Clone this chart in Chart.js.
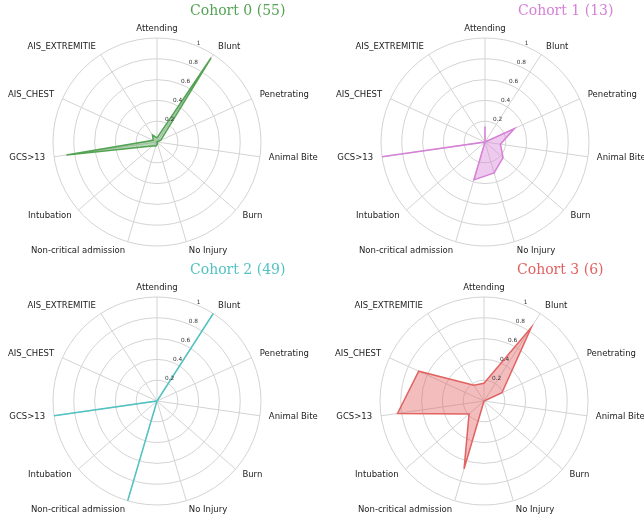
<!DOCTYPE html>
<html>
<head>
<meta charset="utf-8">
<script src="https://cdn.jsdelivr.net/npm/chart.js@4.4.1/dist/chart.umd.min.js"></script>
<style>
  html, body { margin: 0; padding: 0; background: #ffffff; overflow: hidden; }
  #wrap { position: relative; width: 644px; height: 521px; }
  #wrap canvas { position: absolute; }
</style>
</head>
<body>
<div id="wrap"></div>
<script>
// Radar axes, clockwise from the top
const categories = ['Attending', 'Blunt', 'Penetrating', 'Animal Bite', 'Burn', 'No Injury',
  'Non-critical admission', 'Intubation', 'GCS>13', 'AIS_CHEST', 'AIS_EXTREMITIE'];

// Share of patients in each cohort per feature
const cohort0 = [0.04, 0.96, 0.04, 0, 0, 0.02, 0.04, 0.06, 0.88, 0.04, 0.08];
const cohort1 = [0.15, 0, 0.31, 0.15, 0.23, 0.31, 0.38, 0, 1, 0, 0];
const cohort2 = [0, 1, 0, 0, 0, 0, 1, 0, 1, 0, 0];
const cohort3 = [0.17, 0.84, 0.19, 0, 0, 0, 0.68, 0.19, 0.84, 0.69, 0.18];

const cohortTitles = ['Cohort 0 (55)', 'Cohort 1 (13)', 'Cohort 2 (49)', 'Cohort 3 (6)'];
const radialTicks = [0.2, 0.4, 0.6, 0.8, 1];

// Styling and panel layout
const cohortColors = ['#54a354', '#d681d6', '#52c2c2', '#e26262'];
const fillAlpha = 0.42;
const panels = [
  { left: 0,   top: 0,   width: 322, height: 260, cx: 157, cy: 142 },
  { left: 322, top: 0,   width: 322, height: 260, cx: 485, cy: 142 },
  { left: 0,   top: 260, width: 322, height: 261, cx: 157, cy: 401 },
  { left: 322, top: 260, width: 322, height: 261, cx: 484, cy: 401 }
];
const RADIUS = 104;
const GRID = '#d3d3d3';

function rgba(hex, a) {
  const n = parseInt(hex.slice(1), 16);
  return `rgba(${(n >> 16) & 255},${(n >> 8) & 255},${n & 255},${a})`;
}

// Category labels, radial tick labels and the panel title
const polarText = {
  id: 'polarText',
  afterDatasetsDraw(chart, args, opts) {
    const s = chart.scales.r;
    const ctx = chart.ctx;
    ctx.save();

    const a = 22.5 * Math.PI / 180;
    ctx.font = '5.8px "DejaVu Sans"';
    ctx.fillStyle = '#333333';
    ctx.textAlign = 'left';
    ctx.textBaseline = 'bottom';
    s.ticks.forEach(t => {
      if (t.value <= 0) return;
      const r = s.getDistanceFromCenterForValue(t.value);
      ctx.fillText(t.label, s.xCenter + r * Math.sin(a), s.yCenter - r * Math.cos(a));
    });

    ctx.font = '8.5px "DejaVu Sans"';
    ctx.fillStyle = '#222222';
    ctx.textBaseline = 'middle';
    chart.data.labels.forEach((lab, i) => {
      const p = s.getPointPosition(i, s.drawingArea + opts.gap);
      const sn = Math.sin(s.getIndexAngle(i));
      ctx.textAlign = Math.abs(sn) < 0.05 ? 'center' : (sn > 0 ? 'left' : 'right');
      ctx.fillText(lab, p.x, p.y);
    });

    ctx.font = '14px "DejaVu Serif"';
    ctx.fillStyle = opts.titleColor;
    ctx.textAlign = 'left';
    ctx.textBaseline = 'alphabetic';
    ctx.fillText(opts.title, s.xCenter + 33, s.yCenter - 127);
    ctx.restore();
  }
};

const cohortValues = [cohort0, cohort1, cohort2, cohort3];
const wrap = document.getElementById('wrap');

panels.forEach((p, k) => {
  const canvas = document.createElement('canvas');
  canvas.width = p.width;
  canvas.height = p.height;
  canvas.style.left = p.left + 'px';
  canvas.style.top = p.top + 'px';
  canvas.style.width = p.width + 'px';
  canvas.style.height = p.height + 'px';
  wrap.appendChild(canvas);

  const cx = p.cx - p.left, cy = p.cy - p.top;
  new Chart(canvas, {
    type: 'radar',
    data: {
      labels: categories,
      datasets: [{
        data: cohortValues[k],
        borderColor: cohortColors[k],
        backgroundColor: rgba(cohortColors[k], fillAlpha),
        borderWidth: 1.5,
        fill: true,
        pointRadius: 0,
        pointHoverRadius: 0,
        pointHitRadius: 0
      }]
    },
    options: {
      responsive: false,
      animation: false,
      devicePixelRatio: 1,
      layout: {
        padding: {
          left: cx - RADIUS,
          top: cy - RADIUS,
          right: p.width - cx - RADIUS,
          bottom: p.height - cy - RADIUS
        }
      },
      elements: { line: { tension: 0 } },
      scales: {
        r: {
          min: 0,
          max: 1,
          afterBuildTicks: scale => {
            scale.ticks = [0, ...radialTicks].map(v => ({ value: v }));
          },
          ticks: { display: false, callback: v => String(v) },
          pointLabels: { display: false },
          grid: { circular: true, color: GRID, lineWidth: 1 },
          angleLines: { color: GRID, lineWidth: 1 }
        }
      },
      plugins: {
        legend: { display: false },
        tooltip: { enabled: false },
        polarText: { gap: 9, title: cohortTitles[k], titleColor: cohortColors[k] }
      }
    },
    plugins: [polarText]
  });
});
</script>
</body>
</html>
